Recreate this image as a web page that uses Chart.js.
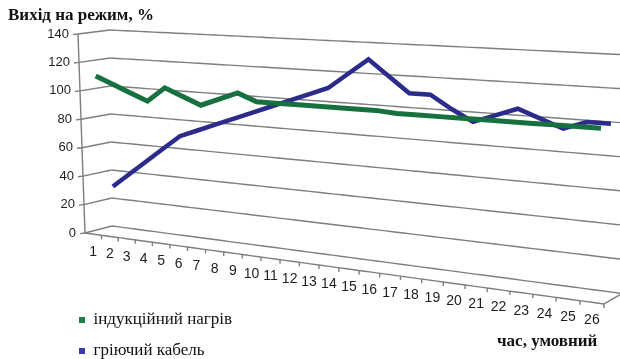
<!DOCTYPE html>
<html>
<head>
<meta charset="utf-8">
<script src="https://cdn.jsdelivr.net/npm/chart.js@4.4.0/dist/chart.umd.min.js"></script>
<style>
  html, body { margin: 0; padding: 0; background: #fff; }
  #wrap { width: 620px; height: 359px; position: relative; }
</style>
</head>
<body>
<div id="wrap"><canvas id="chart"></canvas></div>
<script>
// time steps (conventional units)
const hours = ['1','2','3','4','5','6','7','8','9','10','11','12','13',
               '14','15','16','17','18','19','20','21','22','23','24','25','26'];

// time to reach operating mode, %
const inductionHeating = [110, 105, 100, 95, 105, 100, 95, 100, 105, 100, 100, 100, 100,
                          100, 100, 100, 99, 99, 99, 99, 99, 99, 99, 99, 99, 99];
const heatingCable     = [30, 40, 50, 60, 70, 75, 80, 85, 90, 95, 100, 105, 110,
                          120, 130, 120, 110, 110, 102, 95, 100, 105, 100, 95, 100, 100];

const seriesNames = ['індукційний нагрів', 'гріючий кабель'];
const valueTicks = { min: 0, max: 140, step: 20 };

// depth row of each series inside the 3-D box (0 = front, 1 = back)
const seriesDepth = [0.25, 0.75];

// ---- 3-D box projection -------------------------------------------------
// floor corners: front-left, front-right, back-right, back-left
const floorQuad = [[85, 233], [604, 304], [622, 293.5], [112, 226]];
// vector from each floor corner up to the top of the value axis
const riseQuad  = [[-7, -199], [6, -245], [8, -238.5], [-2, -196]];

function makeHomography(q) {
  const [x0, y0] = q[0], [x1, y1] = q[1], [x2, y2] = q[2], [x3, y3] = q[3];
  const dx1 = x1 - x2, dx2 = x3 - x2, dx3 = x0 - x1 + x2 - x3;
  const dy1 = y1 - y2, dy2 = y3 - y2, dy3 = y0 - y1 + y2 - y3;
  const den = dx1 * dy2 - dx2 * dy1;
  const g = (dx3 * dy2 - dx2 * dy3) / den;
  const h = (dx1 * dy3 - dx3 * dy1) / den;
  const a = x1 - x0 + g * x1, b = x3 - x0 + h * x3, c = x0;
  const d = y1 - y0 + g * y1, e = y3 - y0 + h * y3, f = y0;
  const map = (u, w) => {
    const z = g * u + h * w + 1;
    return [(a * u + b * w + c) / z, (d * u + e * w + f) / z, z];
  };
  map.depthAt = (u, w) => g * u + h * w + 1;
  return map;
}
const floorMap = makeHomography(floorQuad);
const cornerUV = [[0, 0], [1, 0], [1, 1], [0, 1]];
// rise vectors weighted by perspective depth so heights shrink correctly
const riseWeighted = riseQuad.map((r, i) => {
  const z = floorMap.depthAt(cornerUV[i][0], cornerUV[i][1]);
  return [r[0] * z, r[1] * z];
});

function project(u, depth, v) {
  const [fx, fy, z] = floorMap(u, depth);
  const w0 = (1 - u) * (1 - depth), w1 = u * (1 - depth), w2 = u * depth, w3 = (1 - u) * depth;
  const R = riseWeighted;
  const rx = (w0 * R[0][0] + w1 * R[1][0] + w2 * R[2][0] + w3 * R[3][0]) / z;
  const ry = (w0 * R[0][1] + w1 * R[1][1] + w2 * R[2][1] + w3 * R[3][1]) / z;
  return [fx + v * rx, fy + v * ry];
}

function polyline(ctx, pts) {
  ctx.beginPath();
  pts.forEach((p, i) => (i ? ctx.lineTo(p[0], p[1]) : ctx.moveTo(p[0], p[1])));
  ctx.stroke();
}
function sample(fn, n) {
  const pts = [];
  for (let k = 0; k <= n; k++) pts.push(fn(k / n));
  return pts;
}

const box3d = {
  id: 'box3d',
  // move every data point from the flat chart area into the 3-D box
  afterDatasetsUpdate(chart) {
    const xs = chart.scales.x, ys = chart.scales.y;
    chart.data.datasets.forEach((ds, i) => {
      const meta = chart.getDatasetMeta(i);
      meta.data.forEach(pt => {
        const u = (pt.x - xs.left) / xs.width;
        const v = (ys.bottom - pt.y) / ys.height;
        const p = project(u, seriesDepth[i], v);
        pt.x = p[0];
        pt.y = p[1];
      });
    });
  },
  // walls, floor, axes and their labels
  beforeDatasetsDraw(chart) {
    const ctx = chart.ctx, xs = chart.scales.x, ys = chart.scales.y;
    const vOf = val => (ys.bottom - ys.getPixelForValue(val)) / ys.height;
    const uOf = idx => (xs.getPixelForValue(idx) - xs.left) / xs.width;
    const labels = xs.getLabels();
    ctx.save();
    ctx.strokeStyle = '#7e7e7e';
    ctx.lineWidth = 1.4;
    ctx.lineJoin = 'round';

    // gridlines on side wall and back wall
    ys.ticks.forEach(t => {
      const v = vOf(t.value);
      polyline(ctx, [project(0, 0, v), project(0, 1, v)]);
      polyline(ctx, sample(u => project(u, 1, v), 60));
      // tick mark on the value axis
      const a = project(0, 0, v);
      polyline(ctx, [[a[0] - 5, a[1] + 0.6], a]);
    });
    // floor: front edge and right edge
    polyline(ctx, sample(u => project(u, 0, 0), 60));
    polyline(ctx, sample(d => project(1, d, 0), 10));
    // value axis line
    polyline(ctx, [project(0, 0, 0), project(0, 0, 1)]);

    // category tick marks along the front edge
    const n = labels.length;
    for (let k = 1; k <= n; k++) {
      const p = project(k / n, 0, 0);
      polyline(ctx, [p, [p[0], p[1] + 4]]);
    }

    // value labels
    ctx.fillStyle = '#1e1e1e';
    ctx.font = '13px "Liberation Sans", Arial, sans-serif';
    ctx.textAlign = 'right';
    ctx.textBaseline = 'middle';
    ys.ticks.forEach(t => {
      const p = project(0, 0, vOf(t.value));
      ctx.fillText(t.label, p[0] - 9, p[1]);
    });

    // category labels
    ctx.font = '14px "Liberation Sans", Arial, sans-serif';
    ctx.textAlign = 'center';
    labels.forEach((lab, i) => {
      const p = project(uOf(i), 0, 0);
      ctx.fillText(lab, p[0], p[1] + 18);
    });

    // axis titles
    ctx.fillStyle = '#111';
    ctx.font = 'bold 17px "Liberation Serif", "Times New Roman", serif';
    ctx.textAlign = 'left';
    ctx.textBaseline = 'middle';
    ctx.fillText(ys.options.title.text, 8, 16);
    ctx.fillText(xs.options.title.text, 497, 342);
    ctx.restore();
  }
};

const lineColors = ['#17703f', '#2b2b8a'];
const lineWidths = [5, 4.5];
const keyColors  = ['#1f7f4c', '#3a3aa8'];

new Chart(document.getElementById('chart'), {
  type: 'line',
  data: {
    labels: hours,
    datasets: [inductionHeating, heatingCable].map((values, i) => ({
      label: seriesNames[i],
      data: values,
      borderColor: lineColors[i],
      backgroundColor: keyColors[i],
      borderWidth: lineWidths[i],
      borderJoinStyle: 'miter',
      pointRadius: 0,
      pointHoverRadius: 0,
      pointStyle: 'rect',
      pointBackgroundColor: keyColors[i],
      pointBorderWidth: 0,
      fill: false,
      tension: 0,
      clip: false
    }))
  },
  options: {
    responsive: true,
    maintainAspectRatio: false,
    animation: false,
    events: [],
    font: { family: 'Liberation Serif', size: 16 },
    layout: { padding: { left: 65, right: 0, top: 0, bottom: -14.5 } },
    scales: {
      x: {
        type: 'category',
        offset: true,
        display: false,
        ticks: { autoSkip: false },
        title: { text: 'час, умовний' }
      },
      y: {
        type: 'linear',
        display: false,
        min: valueTicks.min,
        max: valueTicks.max,
        ticks: { stepSize: valueTicks.step },
        title: { text: 'Вихід на режим, %' }
      }
    },
    plugins: {
      title: { display: false },
      tooltip: { enabled: false },
      legend: {
        position: 'left',
        align: 'end',
        labels: {
          usePointStyle: true,
          pointStyle: 'rect',
          boxWidth: 6,
          boxHeight: 6,
          padding: 14,
          color: '#111',
          font: { family: 'Liberation Serif', size: 17, style: 'normal', weight: 'normal' }
        }
      }
    }
  },
  plugins: [box3d]
});
</script>
</body>
</html>
